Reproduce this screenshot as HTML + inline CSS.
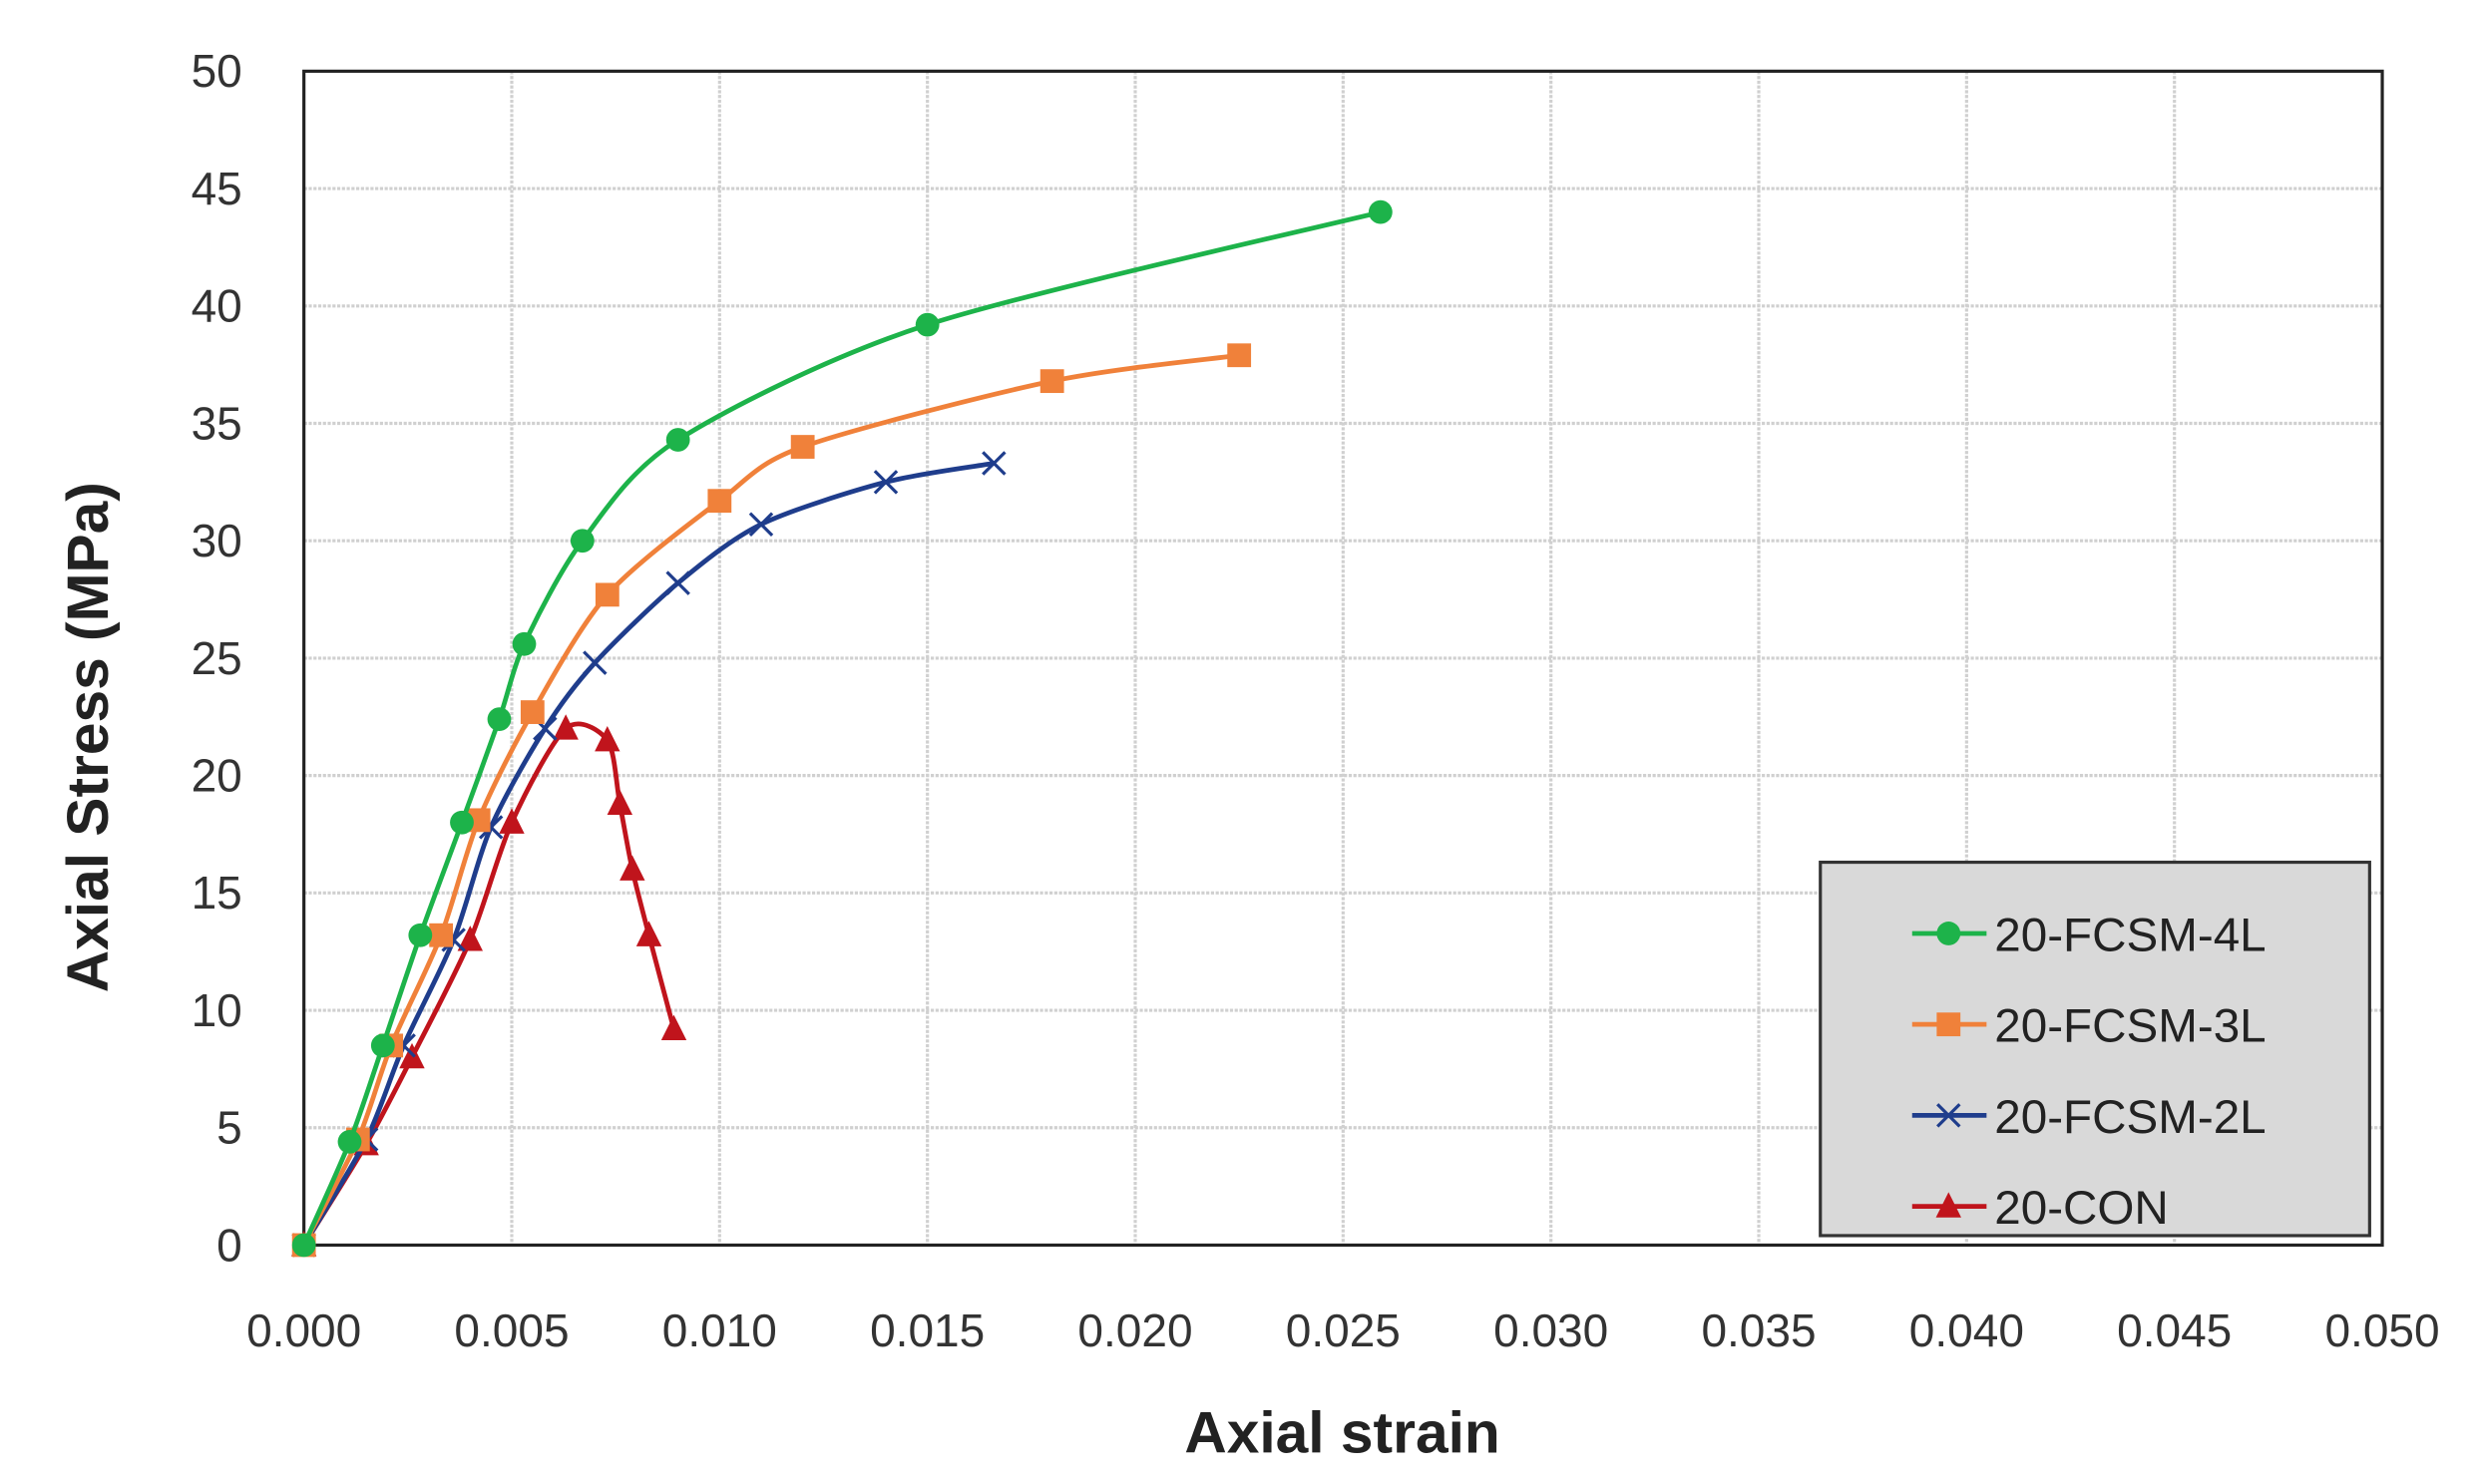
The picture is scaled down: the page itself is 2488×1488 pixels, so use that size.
<!DOCTYPE html>
<html><head><meta charset="utf-8"><style>
html,body{margin:0;padding:0;background:#fff;}
svg{display:block;}
text{font-family:"Liberation Sans",sans-serif;}
</style></head><body>
<svg id="s" width="2488" height="1488" viewBox="0 0 1568 938" preserveAspectRatio="none" xmlns="http://www.w3.org/2000/svg">
<rect x="0" y="0" width="1568" height="938" fill="#fff"/>
<g id="grid"></g>
<rect x="192" y="45" width="1313" height="742" fill="none" stroke="#222" stroke-width="2"/>
<g id="ticks" font-size="29" fill="#333"></g>
<text x="68" y="466" font-size="37" font-weight="bold" fill="#222" text-anchor="middle" transform="rotate(-90 68 466)">Axial Stress (MPa)</text>
<text x="848" y="918" font-size="37" font-weight="bold" fill="#222" text-anchor="middle">Axial strain</text>
<g id="series"></g>
<rect x="1150" y="545" width="347" height="236" fill="#d9d9d9" stroke="#333" stroke-width="2"/>
<g id="legend" font-size="30" fill="#222"></g>
</svg>
<script>
const X=v=>192+v/0.05*1313, Y=v=>787-v/50*742;
const ns="http://www.w3.org/2000/svg";
function el(p,t,a,txt){const e=document.createElementNS(ns,t);for(const k in a)e.setAttribute(k,a[k]);if(txt!=null)e.textContent=txt;p.appendChild(e);return e;}
const g=document.getElementById('grid'),tk=document.getElementById('ticks');
for(let i=0;i<=10;i++){const y=Y(i*5);if(i>0&&i<10)el(g,'line',{x1:192,x2:1505,y1:y,y2:y,stroke:'#d0d0d0','stroke-width':2,'stroke-dasharray':'2 1'});
el(tk,'text',{x:153,y:y+10,'text-anchor':'end'},String(i*5));}
for(let i=0;i<=10;i++){const x=X(i*0.005);if(i>0&&i<10)el(g,'line',{x1:x,x2:x,y1:45,y2:787,stroke:'#d0d0d0','stroke-width':2,'stroke-dasharray':'2 1'});
el(tk,'text',{x:x,y:851,'text-anchor':'middle'},(i*0.005).toFixed(3));}
const S=[
{c:'#1db34a',m:'c',n:'20-FCSM-4L',d:[[0,0],[0.0011,4.4],[0.0019,8.5],[0.0028,13.2],[0.0038,18],[0.0047,22.4],[0.0053,25.6],[0.0067,30],[0.009,34.3],[0.015,39.2],[0.0259,44]]},
{c:'#f0813a',m:'s',n:'20-FCSM-3L',d:[[0,0],[0.0013,4.5],[0.0021,8.5],[0.0033,13.2],[0.0042,18.1],[0.0055,22.7],[0.0073,27.7],[0.01,31.7],[0.012,34],[0.018,36.8],[0.0225,37.9]]},
{c:'#1f3d8c',m:'x',n:'20-FCSM-2L',d:[[0,0],[0.0015,4.5],[0.0024,8.5],[0.0036,13],[0.0045,17.8],[0.0058,22],[0.007,24.8],[0.009,28.2],[0.011,30.7],[0.014,32.5],[0.0166,33.3]]},
{c:'#c0141c',m:'t',n:'20-CON',d:[[0,0],[0.0015,4.3],[0.0026,8],[0.004,13],[0.005,18],[0.0063,22],[0.0073,21.5],[0.0076,18.8],[0.0079,16],[0.0083,13.2],[0.0089,9.2]]}];
function mk(p,m,x,y,c){if(m=='c')el(p,'circle',{cx:x,cy:y,r:7.5,fill:c});
else if(m=='s')el(p,'rect',{x:x-7.5,y:y-7.5,width:15,height:15,fill:c});
else if(m=='x'){el(p,'path',{d:`M${x-7} ${y-7}L${x+7} ${y+7}M${x-7} ${y+7}L${x+7} ${y-7}`,stroke:c,'stroke-width':2});}
else el(p,'path',{d:`M${x} ${y-9}L${x+8} ${y+7}L${x-8} ${y+7}Z`,fill:c});}
function smooth(pts){let d=`M${pts[0][0]} ${pts[0][1]}`;for(let i=0;i<pts.length-1;i++){const p0=pts[i-1]||pts[i],p1=pts[i],p2=pts[i+1],p3=pts[i+2]||p2;const t=0.14;
d+=`C${p1[0]+(p2[0]-p0[0])*t} ${p1[1]+(p2[1]-p0[1])*t} ${p2[0]-(p3[0]-p1[0])*t} ${p2[1]-(p3[1]-p1[1])*t} ${p2[0]} ${p2[1]}`;}return d;}
const sg=document.getElementById('series'),lg=document.getElementById('legend');
S.slice().reverse().forEach(s=>{const pts=s.d.map(p=>[X(p[0]),Y(p[1])]);el(sg,'path',{d:smooth(pts),fill:'none',stroke:s.c,'stroke-width':3});pts.forEach(p=>mk(sg,s.m,p[0],p[1],s.c));});
S.forEach((s,i)=>{const y=590+i*57.5;el(lg,'line',{x1:1208,x2:1255,y1:y,y2:y,stroke:s.c,'stroke-width':3});mk(lg,s.m,1231,y,s.c);el(lg,'text',{x:1260,y:y+11},s.n);});
</script>
</body></html>
